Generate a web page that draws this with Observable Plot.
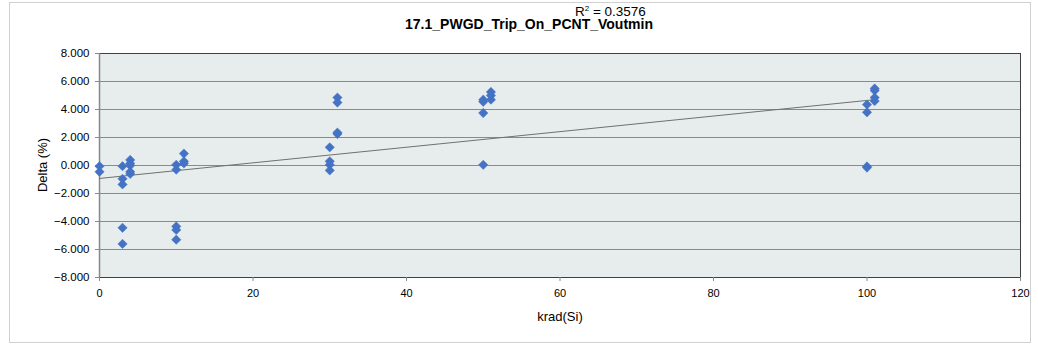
<!DOCTYPE html>
<html>
<head>
<meta charset="utf-8">
<script src="https://cdn.jsdelivr.net/npm/d3@7"></script>
<script src="https://cdn.jsdelivr.net/npm/@observablehq/plot@0.6"></script>
<style>
  body { margin: 0; background: #fff; }
  #wrap { position: relative; width: 1038px; height: 346px; overflow: hidden; font-family: "Liberation Sans", Arial, sans-serif; }
  #border { position: absolute; left: 9px; top: 2px; width: 1020px; height: 339px; border: 1px solid #d0d0d0; }
  #chart { position: absolute; left: 0; top: 0; }
  .t { position: absolute; white-space: nowrap; color: #000; }
</style>
</head>
<body>
<div id="wrap">
  <div id="border"></div>
  <div id="chart"></div>
  <div class="t" id="title" style="left:0;width:1058px;top:16px;text-align:center;font-weight:bold;font-size:14px;">17.1_PWGD_Trip_On_PCNT_Voutmin</div>
  <div class="t" id="r2" style="left:575px;top:4px;font-size:13.5px;">R<sup style="font-size:8px;vertical-align:5px;line-height:0">2</sup> = 0.3576</div>
  <div class="t" id="xlab" style="left:99px;width:922px;top:309px;text-align:center;font-size:13px;">krad(Si)</div>
  <div class="t" id="ylab" style="left:42px;top:165px;font-size:13px;transform:translate(-50%,-50%) rotate(-90deg);">Delta (%)</div>
</div>
<script>
// data
const krad = [
  0, 0,
  3, 3, 3, 3, 3,
  4, 4, 4, 4, 4,
  10, 10, 10, 10, 10,
  11, 11, 11,
  30, 30, 30, 30,
  31, 31, 31, 31,
  50, 50, 50, 50,
  51, 51, 51,
  100, 100, 100, 100,
  101, 101, 101, 101
];
const delta = [
  -0.05, -0.45,
  -0.05, -0.95, -1.35, -4.45, -5.6,
  0.4, 0.15, 0.0, -0.45, -0.6,
  0.05, -0.3, -4.35, -4.6, -5.3,
  0.85, 0.3, 0.15,
  1.3, 0.3, 0.05, -0.35,
  4.85, 4.5, 2.35, 2.25,
  4.7, 4.55, 3.75, 0.05,
  5.25, 5.0, 4.7,
  4.35, 3.8, -0.07, -0.15,
  5.5, 5.35, 4.85, 4.6
];
const xTicks = [0, 20, 40, 60, 80, 100, 120];
const yTicks = [-8, -6, -4, -2, 0, 2, 4, 6, 8];

const data = krad.map((k, i) => ({krad: k, delta: delta[i]}));

const chart = Plot.plot({
  width: 1038,
  height: 346,
  marginLeft: 99,
  marginRight: 18,
  marginTop: 53,
  marginBottom: 69,
  style: {fontFamily: "'Liberation Sans', Arial, sans-serif", fontSize: "11px", color: "#000", background: "transparent"},
  x: {domain: [0, 120], ticks: xTicks, tickFormat: d => d, label: null, tickSize: 4, tickPadding: 8},
  y: {domain: [-8, 8], ticks: yTicks, tickFormat: d3.format(".3f"), label: null, tickSize: 4, tickPadding: 6},
  marks: [
    Plot.frame({fill: "#e7ecec", stroke: null}),
    Plot.gridY(yTicks, {stroke: "#8a8a8a", strokeOpacity: 1, strokeWidth: 1}),
    Plot.frame({stroke: "#404040", strokeWidth: 1, fill: null}),
    Plot.ruleX([0], {stroke: "#888", strokeWidth: 1.5}),
    Plot.axisX({ticks: xTicks, tickFormat: d => d, tickSize: 4, tickPadding: 8, stroke: "#888", fontSize: 11}),
    Plot.axisY({ticks: yTicks, tickFormat: d3.format(".3f"), tickSize: 4, tickPadding: 6, stroke: "#888", fontSize: 11.5}),
    Plot.linearRegressionY(data, {x: "krad", y: "delta", ci: 0, stroke: "#707070", strokeWidth: 1}),
    Plot.dot(data, {x: "krad", y: "delta", symbol: "diamond2", r: 4.2, fill: "#4472c4", stroke: "#4472c4", strokeWidth: 0.5})
  ]
});
document.getElementById("chart").appendChild(chart);
</script>
</body>
</html>
